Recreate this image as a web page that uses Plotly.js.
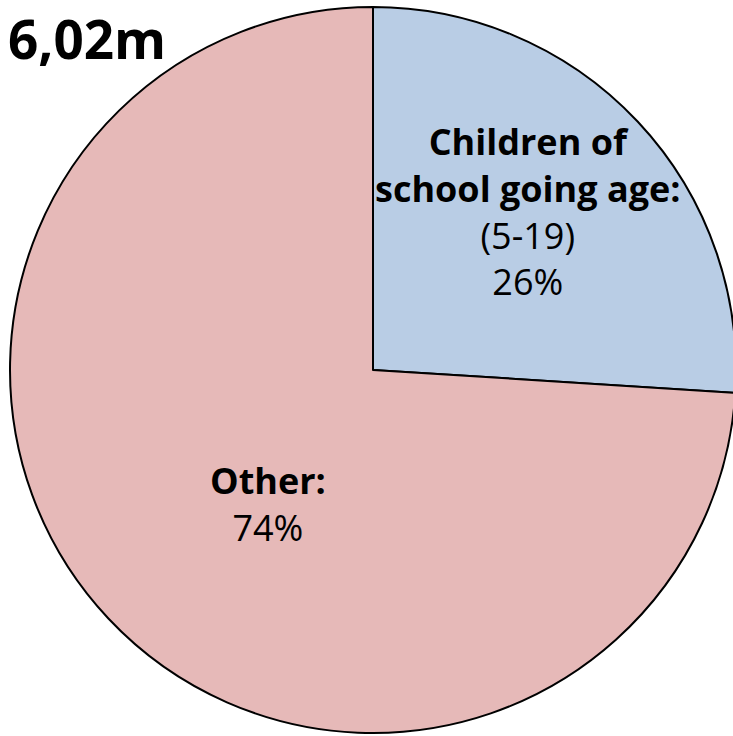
<!DOCTYPE html>
<html>
<head>
<meta charset="utf-8">
<script src="https://cdn.plot.ly/plotly-3.0.1.min.js"></script>
<style>
  html, body { margin: 0; padding: 0; overflow: hidden; background: #fff; }
  #chart { width: 740px; height: 736px; }
</style>
</head>
<body>
<div id="chart"></div>
<script>
// Population split: school-age children vs everyone else
const totalLabel = '6,02m';
const groupNames = ['Children of<br>school going age:', 'Other:'];
const groupSubtitles = ['(5-19)', ''];
const groupShares = [26, 74];
const groupColors = ['#B9CDE5', '#E6B9B8'];

const W = 740, H = 736;
const FONT = 'Open Sans, Liberation Sans, sans-serif';

// Label anchor positions (pixels from top-left) for each slice's text block
const labelPos = [[528, 211], [268, 504]];

const annotations = groupNames.map((name, i) => {
  const lines = ['<b>' + name + '</b>'];
  if (groupSubtitles[i]) lines.push(groupSubtitles[i]);
  lines.push(groupShares[i] + '%');
  return {
    xref: 'paper', yref: 'paper',
    x: labelPos[i][0] / W, y: 1 - labelPos[i][1] / H,
    xanchor: 'center', yanchor: 'middle',
    text: lines.join('<br>'),
    showarrow: false,
    align: 'center',
    font: { family: FONT, size: 36, color: '#000' }
  };
});

// Total population headline in the top-left corner
annotations.push({
  xref: 'paper', yref: 'paper',
  x: 6 / W, y: 1,
  xanchor: 'left', yanchor: 'top',
  text: '<b>' + totalLabel + '</b>',
  showarrow: false,
  font: { family: FONT, size: 53, color: '#000' }
});

const trace = {
  type: 'pie',
  values: groupShares,
  labels: groupNames,
  marker: { colors: groupColors, line: { color: '#000', width: 2 } },
  sort: false,
  direction: 'clockwise',
  rotation: 0,
  textinfo: 'none',
  hoverinfo: 'none',
  showlegend: false,
  domain: { x: [10 / W, 736 / W], y: [1 - 733 / H, 1 - 7 / H] }
};

const layout = {
  width: W, height: H,
  margin: { l: 0, r: 0, t: 0, b: 0, pad: 0 },
  paper_bgcolor: '#fff',
  showlegend: false,
  annotations: annotations
};

Plotly.newPlot('chart', [trace], layout, { displayModeBar: false, staticPlot: true });
</script>
</body>
</html>
